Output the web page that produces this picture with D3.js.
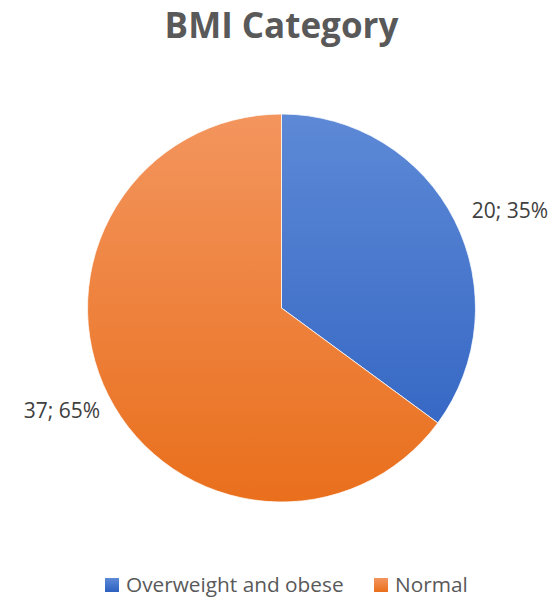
<!DOCTYPE html>
<html>
<head>
<meta charset="utf-8">
<script src="https://cdn.jsdelivr.net/npm/d3@7"></script>
<style>
  body { margin: 0; background: #fff; }
  svg { display: block; font-family: "Open Sans", "Noto Sans", sans-serif; }
</style>
</head>
<body>
<svg id="chart" width="553" height="598"></svg>
<script>
const categories = ['Overweight and obese', 'Normal'];
const values = [20, 37];
const percents = ['35%', '65%'];
const colorsTop = ['#5d89d6', '#f3955e'];
const colorsBottom = ['#2d60c0', '#e96f1c'];

const cx = 281.5, cy = 308, radius = 194;

const svg = d3.select('#chart');
const defs = svg.append('defs');

// pie gradients, in the pie group's coordinates
categories.forEach(function (c, i) {
  const grad = defs.append('linearGradient')
    .attr('id', 'grad' + i)
    .attr('gradientUnits', 'userSpaceOnUse')
    .attr('x1', 0).attr('y1', -radius)
    .attr('x2', 0).attr('y2', radius);
  grad.append('stop').attr('offset', '0%').attr('stop-color', colorsTop[i]);
  grad.append('stop').attr('offset', '100%').attr('stop-color', colorsBottom[i]);

  const lg = defs.append('linearGradient')
    .attr('id', 'lgrad' + i)
    .attr('x1', 0).attr('y1', 0).attr('x2', 0).attr('y2', 1);
  lg.append('stop').attr('offset', '0%').attr('stop-color', colorsTop[i]);
  lg.append('stop').attr('offset', '100%').attr('stop-color', colorsBottom[i]);
});

// title
svg.append('text')
  .attr('x', cx)
  .attr('y', 38)
  .attr('text-anchor', 'middle')
  .style('font-size', '35px')
  .style('font-weight', 'bold')
  .style('fill', '#595959')
  .text('BMI Category');

const pie = d3.pie().sort(null).value(function (d) { return d; });
const arcs = pie(values);
const arc = d3.arc().innerRadius(0).outerRadius(radius);

const g = svg.append('g')
  .attr('transform', 'translate(' + cx + ',' + cy + ')');

g.selectAll('path')
  .data(arcs)
  .enter().append('path')
  .attr('d', arc)
  .attr('fill', function (d, i) { return 'url(#grad' + i + ')'; })
  .attr('stroke', '#fff')
  .attr('stroke-width', 0.75);

// data labels outside the pie
const labelPos = [[510, 218], [62, 418]];
g.selectAll('text.lbl')
  .data(arcs)
  .enter().append('text')
  .attr('class', 'lbl')
  .attr('x', function (d, i) { return labelPos[i][0] - cx; })
  .attr('y', function (d, i) { return labelPos[i][1] - cy; })
  .attr('text-anchor', 'middle')
  .style('font-size', '21px')
  .style('fill', '#404040')
  .text(function (d, i) { return d.data + '; ' + percents[i]; });

// legend
const legendX = [105, 374];
const leg = svg.append('g');
categories.forEach(function (c, i) {
  leg.append('rect')
    .attr('x', legendX[i]).attr('y', 578)
    .attr('width', 14).attr('height', 14)
    .attr('fill', 'url(#lgrad' + i + ')');
  leg.append('text')
    .attr('x', legendX[i] + 21)
    .attr('y', 592)
    .style('font-size', '20.8px')
    .style('fill', '#595959')
    .text(c);
});
</script>
</body>
</html>
